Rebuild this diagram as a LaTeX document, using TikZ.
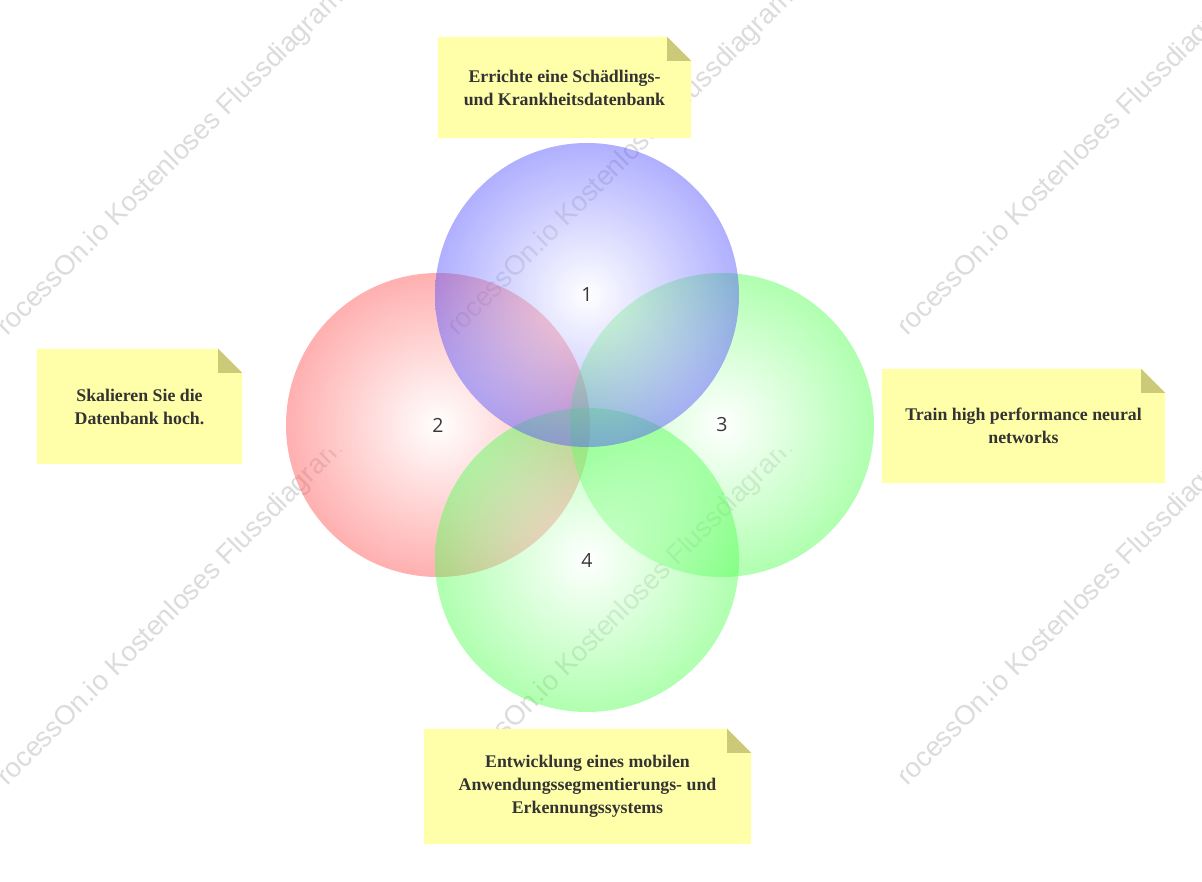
\documentclass[tikz,border=0pt]{standalone}
\usepackage{fontspec}
\setmainfont{Liberation Serif}
\newfontfamily\numfont{Open Sans}
\newfontfamily\wmfont{Liberation Sans}
\definecolor{vblue}{RGB}{80,80,255}
\definecolor{vred}{RGB}{255,80,80}
\definecolor{vgreen}{RGB}{80,255,80}
\definecolor{notebg}{RGB}{255,255,170}
\definecolor{notefoldc}{RGB}{204,202,120}
\definecolor{txtc}{RGB}{51,51,51}
\definecolor{numc}{RGB}{55,55,55}
\definecolor{wmc}{RGB}{220,220,220}
\pgfdeclareradialshading{vennblue}{\pgfpoint{0bp}{0bp}}{color(0bp)=(white); color(25bp)=(vblue); color(50bp)=(vblue)}
\pgfdeclareradialshading{vennred}{\pgfpoint{0bp}{0bp}}{color(0bp)=(white); color(25bp)=(vred); color(50bp)=(vred)}
\pgfdeclareradialshading{venngreen}{\pgfpoint{0bp}{0bp}}{color(0bp)=(white); color(25bp)=(vgreen); color(50bp)=(vgreen)}
\pgfdeclarelayer{wmlayer}
\pgfdeclarelayer{notelayer}
\pgfsetlayers{wmlayer,notelayer,main}
\tikzset{
  venn/.style={circle, inner sep=0pt, minimum size=304pt, shade, fill opacity=0.45},
  vennnum/.style={inner sep=0pt, text=numc, font=\numfont\fontsize{19.5}{22}\selectfont},
  notetext/.style={inner sep=0pt, align=center, text=txtc, font=\bfseries\fontsize{17.8}{23}\selectfont},
  wmark/.style={text=wmc, font=\wmfont\fontsize{27.5}{30}\selectfont, inner sep=0pt, anchor=base west, rotate=45},
  notepaper/.style={fill=notebg},
  notecorner/.style={fill=notefoldc}
}
\newcommand\stickynote[1]{%
  \begin{pgfonlayer}{notelayer}
    \fill[notepaper] (#1.south west) -- (#1.north west) -- ([xshift=-24pt]#1.north east) -- ([yshift=-24pt]#1.north east) -- (#1.south east) -- cycle;
    \fill[notecorner] ([xshift=-24pt]#1.north east) -- ([xshift=-24pt,yshift=-24pt]#1.north east) -- ([yshift=-24pt]#1.north east) -- cycle;
  \end{pgfonlayer}}
\begin{document}
\begin{tikzpicture}[x=1pt,y=-1pt]
\useasboundingbox (0,0) rectangle (1202,881);
\begin{pgfonlayer}{wmlayer}
  \fill[white] (0,0) rectangle (1202,881);
  \foreach \tx/\ty/\nm in {0/0/wa,450/0/wb,900/0/wc,0/450/wd,450/450/we,900/450/wf}{
    \begin{scope}
      \clip (\tx,\ty) rectangle ++(450,450);
      \node[wmark] (\nm) at (\tx-6,\ty+350) {ProcessOn.io Kostenloses Flussdiagramm};
    \end{scope}}
\end{pgfonlayer}
% notes
\node[notetext, minimum width=253pt, minimum height=101pt] (n1) at (564.5,87.5) {Errichte eine Schädlings-\\und Krankheitsdatenbank};
\node[notetext, minimum width=205pt, minimum height=115pt] (n2) at (139.5,406.5) {Skalieren Sie die\\Datenbank hoch.};
\node[notetext, minimum width=283pt, minimum height=114pt] (n3) at (1023.5,426) {Train high performance neural\\networks};
\node[notetext, minimum width=327pt, minimum height=115pt] (n4) at (587.5,786.5) {Entwicklung eines mobilen\\Anwendungssegmentierungs- und\\Erkennungssystems};
\stickynote{n1}
\stickynote{n2}
\stickynote{n3}
\stickynote{n4}
% circles
\node[venn, shading=vennred] (c2) at (438,425) {};
\node[venn, shading=venngreen] (c3) at (722,425) {};
\node[venn, shading=venngreen] (c4) at (587,560) {};
\node[venn, shading=vennblue] (c1) at (587,295) {};
\node[vennnum] (l1) at (c1.center) {1};
\node[vennnum] (l2) at (c2.center) {2};
\node[vennnum] (l3) at (c3.center) {3};
\node[vennnum] (l4) at (c4.center) {4};
\end{tikzpicture}
\end{document}
